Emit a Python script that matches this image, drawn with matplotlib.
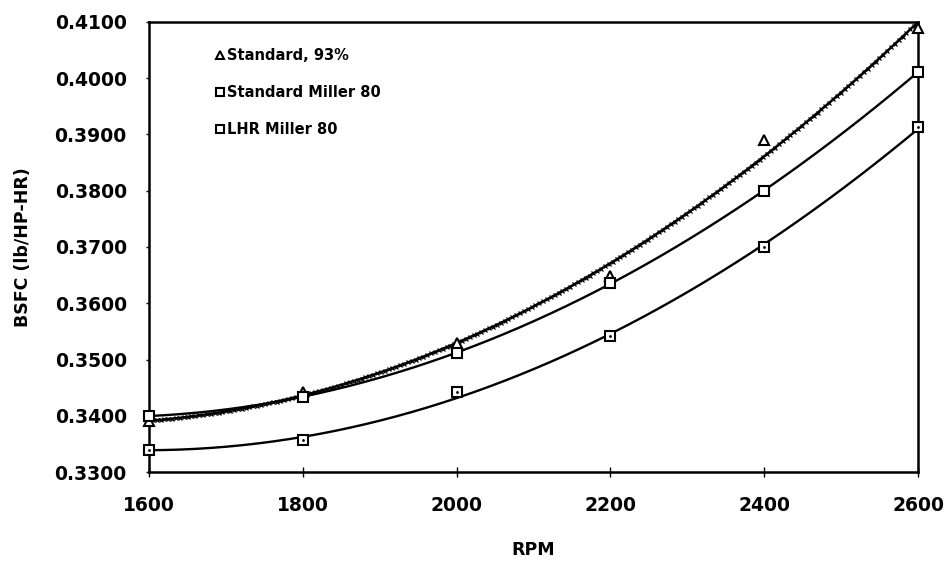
import numpy as np
import matplotlib
matplotlib.use("Agg")
import matplotlib.pyplot as plt

rpm = [1600, 1800, 2000, 2200, 2400, 2600]
std_93 = [0.3390, 0.3442, 0.3530, 0.3648, 0.3890, 0.4090]
std_miller80 = [0.3400, 0.3433, 0.3512, 0.3636, 0.3800, 0.4011]
lhr_miller80 = [0.3339, 0.3357, 0.3443, 0.3541, 0.3700, 0.3913]

labels = ["Standard, 93%", "Standard Miller 80", "LHR Miller 80"]
y_ticks = [0.33, 0.34, 0.35, 0.36, 0.37, 0.38, 0.39, 0.40, 0.41]
x_ticks = [1600, 1800, 2000, 2200, 2400, 2600]

plt.rcParams["font.family"] = ["DejaVu Sans"]
fig = plt.figure(figsize=(9.52, 5.63), dpi=100)
ax = fig.add_axes([0.1565, 0.1616, 0.8078, 0.7994])

xs = np.linspace(rpm[0], rpm[-1], 200)

# polynomial trend lines (2nd order) through each series
for ys, marker, lab, jag in [(std_93, "^", labels[0], True),
                             (std_miller80, "s", labels[1], False),
                             (lhr_miller80, "s", labels[2], False)]:
    coef = np.polyfit(rpm, ys, 2)
    fit = np.polyval(coef, xs)
    ax.plot(xs, fit, color="black", linewidth=1.7, zorder=2)
    if jag:
        ax.plot(xs, fit, color="black", linestyle="none", marker="x",
                markersize=3, markeredgewidth=0.9, zorder=2)
    ax.plot(rpm, ys, linestyle="none", marker=marker, markersize=7.5,
            markerfacecolor="white", markeredgecolor="black",
            markeredgewidth=1.5, label=lab, zorder=3, clip_on=False)

# small mark inside the LHR squares
ax.plot(rpm, lhr_miller80, linestyle="none", marker=".", markersize=2,
        color="black", zorder=4, clip_on=False)

ax.set_xlim(1600, 2600)
ax.set_ylim(0.33, 0.41)
ax.set_xticks(x_ticks)
ax.set_yticks(y_ticks)
ax.set_yticklabels([f"{v:.4f}" for v in y_ticks])
ax.tick_params(axis="x", direction="inout", length=7, width=1, labelsize=13.5, pad=14)
ax.tick_params(axis="y", direction="out", length=2, width=1, labelsize=13.5, pad=14)
for lbl in ax.get_xticklabels() + ax.get_yticklabels():
    lbl.set_fontweight("semibold")
for s in ax.spines.values():
    s.set_linewidth(1.8)

ax.set_xlabel("RPM", fontsize=12.5, fontweight="bold")
ax.xaxis.set_label_coords(0.5, -0.153)
ax.set_ylabel("BSFC (lb/HP-HR)", fontsize=12.5, fontweight="bold")
ax.yaxis.set_label_coords(-0.152, 0.5)

leg = ax.legend(loc="upper left", bbox_to_anchor=(0.075, 0.955), frameon=False,
                prop={"size": 10.5, "weight": "bold"}, handletextpad=0.0,
                handlelength=1.0, labelspacing=1.5, borderaxespad=0,
                markerscale=0.85)

fig.savefig("out.png", dpi=100)
